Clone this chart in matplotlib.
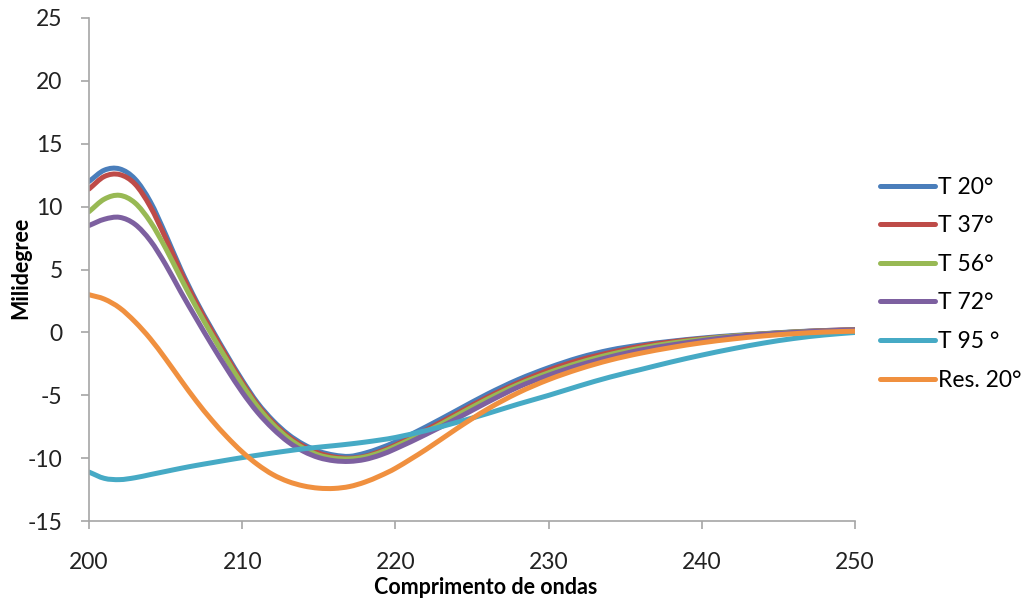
import matplotlib
matplotlib.use("Agg")
import matplotlib.pyplot as plt
from matplotlib.path import Path
from matplotlib.patches import PathPatch
from matplotlib.lines import Line2D

plt.rcParams['font.family'] = ['Lato', 'DejaVu Sans']
plt.rcParams['axes.unicode_minus'] = False

# comprimento de onda (nm)
wavelength = [200, 201, 202, 203, 204, 205, 206, 207, 208, 209, 210, 211, 212, 213,
              214, 215, 216, 217, 218, 219, 220, 222, 224, 226, 228, 230, 232, 234,
              236, 238, 240, 242, 244, 246, 248, 250]

t20 = [12.0, 12.9, 13.0, 12.2, 10.4, 7.8, 5.0, 2.5, 0.3, -1.8, -3.8, -5.6, -7.0, -8.1,
       -8.9, -9.45, -9.75, -9.85, -9.6, -9.2, -8.7, -7.5, -6.2, -4.9, -3.75, -2.8, -2.0,
       -1.4, -1.0, -0.7, -0.45, -0.25, -0.1, 0.05, 0.15, 0.22]
t37 = [11.4, 12.4, 12.55, 11.8, 10.0, 7.5, 4.8, 2.35, 0.15, -1.95, -3.95, -5.75, -7.15,
       -8.25, -9.05, -9.6, -9.9, -10.0, -9.85, -9.45, -8.95, -7.75, -6.45, -5.15, -4.0,
       -3.0, -2.2, -1.6, -1.1, -0.75, -0.5, -0.3, -0.12, 0.03, 0.15, 0.22]
t56 = [9.6, 10.6, 10.9, 10.3, 8.8, 6.7, 4.3, 2.0, -0.15, -2.2, -4.15, -5.9, -7.3, -8.4,
       -9.2, -9.75, -10.0, -10.05, -9.9, -9.55, -9.05, -7.9, -6.6, -5.3, -4.15, -3.2, -2.4,
       -1.75, -1.25, -0.85, -0.55, -0.3, -0.12, 0.03, 0.12, 0.2]
t72 = [8.5, 9.0, 9.15, 8.6, 7.3, 5.4, 3.2, 1.1, -0.95, -2.9, -4.75, -6.35, -7.65, -8.7,
       -9.45, -9.95, -10.2, -10.25, -10.1, -9.75, -9.25, -8.1, -6.85, -5.55, -4.35, -3.4,
       -2.6, -1.95, -1.4, -1.0, -0.65, -0.35, -0.15, 0.0, 0.12, 0.2]
t95 = [-11.1, -11.6, -11.7, -11.55, -11.3, -11.05, -10.8, -10.57, -10.36, -10.15, -9.95,
       -9.76, -9.58, -9.41, -9.25, -9.12, -9.0, -8.87, -8.72, -8.55, -8.35, -7.8, -7.15,
       -6.45, -5.7, -5.0, -4.25, -3.55, -2.95, -2.35, -1.8, -1.3, -0.85, -0.48, -0.2, 0.0]
res20 = [3.0, 2.65, 1.95, 0.85, -0.5, -2.1, -3.8, -5.45, -6.95, -8.3, -9.5, -10.5, -11.3,
         -11.85, -12.2, -12.38, -12.4, -12.25, -11.9, -11.4, -10.8, -9.3, -7.65, -6.1, -4.8,
         -3.75, -2.9, -2.2, -1.65, -1.2, -0.82, -0.52, -0.28, -0.1, 0.03, 0.1]

series = [
    ("T 20°", t20, "#4A7EBB"),
    ("T 37°", t37, "#BE4B48"),
    ("T 56°", t56, "#98B954"),
    ("T 72°", t72, "#7D60A0"),
    ("T 95 °", t95, "#46AAC5"),
    ("Res. 20°", res20, "#F0903F"),
]


def smooth_path(xs, ys):
    # linha suavizada (Hermite cubico -> Bezier), como a opcao do Excel
    n = len(xs)
    slopes = []
    for i in range(n):
        a = max(i - 1, 0)
        b = min(i + 1, n - 1)
        slopes.append((ys[b] - ys[a]) / (xs[b] - xs[a]))
    verts = [(xs[0], ys[0])]
    codes = [Path.MOVETO]
    for i in range(n - 1):
        h = (xs[i + 1] - xs[i]) / 3
        verts += [(xs[i] + h, ys[i] + slopes[i] * h),
                  (xs[i + 1] - h, ys[i + 1] - slopes[i + 1] * h),
                  (xs[i + 1], ys[i + 1])]
        codes += [Path.CURVE4] * 3
    return Path(verts, codes)


fig = plt.figure(figsize=(10.29, 5.99), dpi=100)
ax = fig.add_axes([0.0865, 0.13, 0.7445, 0.84])

handles = []
for label, values, color in series:
    patch = PathPatch(smooth_path(wavelength, values), facecolor="none", edgecolor=color,
                      lw=3.6, capstyle="round", joinstyle="round", transform=ax.transData)
    ax.add_patch(patch)
    handles.append(Line2D([], [], color=color, lw=3.6, solid_capstyle="round", label=label))

ax.set_xlim(200, 250)
ax.set_ylim(-15, 25)
ax.set_xticks(range(200, 251, 10))
ax.set_yticks(range(-15, 26, 5))

for side in ("top", "right"):
    ax.spines[side].set_visible(False)
for side in ("left", "bottom"):
    ax.spines[side].set_color("#a6a6a6")
    ax.spines[side].set_linewidth(1.2)
ax.tick_params(axis="both", colors="#a6a6a6", length=6, width=1.2, labelsize=16.5,
               labelcolor="#222222")
ax.tick_params(axis="x", pad=16)
ax.tick_params(axis="y", pad=13)

ax.set_xlabel("Comprimento de ondas", fontsize=15.5, fontweight="bold")
ax.set_ylabel("Milidegree", fontsize=15.5, fontweight="bold")
ax.xaxis.set_label_coords(0.518, -0.112)
ax.yaxis.set_label_coords(-0.076, 0.503)

ax.legend(handles=handles, loc="center left", bbox_to_anchor=(1.033, 0.472), frameon=False,
          fontsize=16.5, handlelength=2.4, handletextpad=0.1, labelspacing=0.77,
          borderpad=0, borderaxespad=0)

fig.savefig("out.png", dpi=100)
plt.close(fig)
